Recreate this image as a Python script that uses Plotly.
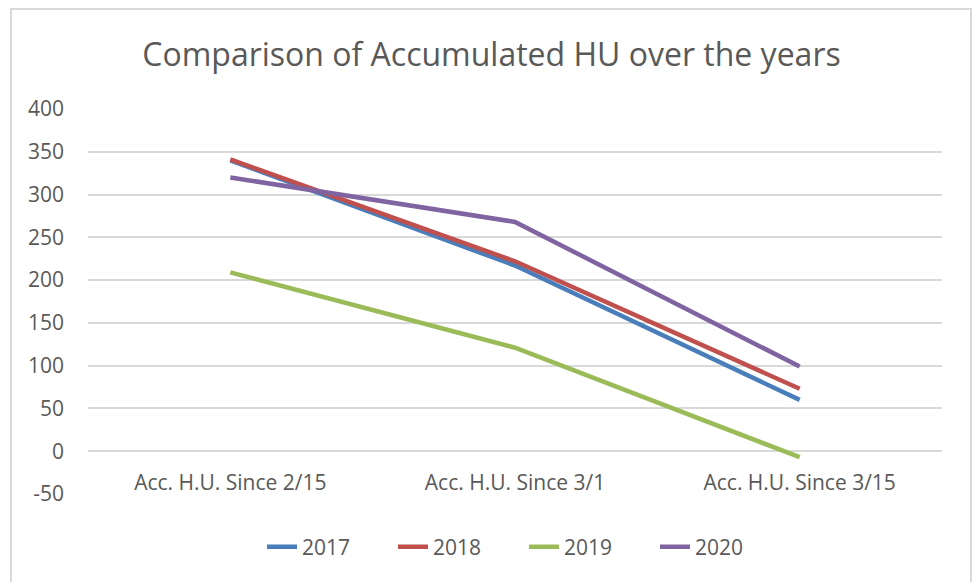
import plotly.graph_objects as go

categories = ["Acc. H.U. Since 2/15", "Acc. H.U. Since 3/1", "Acc. H.U. Since 3/15"]
series_names = ["2017", "2018", "2019", "2020"]
v2017 = [340, 217, 60]
v2018 = [341, 222, 73]
v2019 = [209, 121, -7]
v2020 = [320, 268, 99]
y_ticks = [-50, 0, 50, 100, 150, 200, 250, 300, 350, 400]
y_tick_labels = [str(v) for v in y_ticks]

colors = ["#4A7EBB", "#C0504D", "#9BBB59", "#8064A2"]
FONT = "Open Sans"
GRAY = "#595959"

fig = go.Figure()
for name, vals, c in zip(series_names, [v2017, v2018, v2019, v2020], colors):
    fig.add_trace(go.Scatter(x=[0, 1, 2], y=vals, mode="lines", name=name,
                             line=dict(color=c, width=4.5)))

L, R, T, B = 88, 33, 109, 88
W, H = 975, 582
pw, ph = W - L - R, H - T - B

fig.update_layout(
    width=W, height=H,
    margin=dict(l=L, r=R, t=T, b=B),
    paper_bgcolor="white", plot_bgcolor="white",
    font=dict(family=FONT, color=GRAY, size=19),
    title=dict(text="Comparison of Accumulated HU over the years",
               x=491.5 / W, xanchor="center", y=1 - 55 / H, yanchor="middle",
               yref="container", font=dict(size=32, color=GRAY, family=FONT)),
    xaxis=dict(range=[-0.5, 2.5], tickmode="array", tickvals=[0, 1, 2],
               ticktext=categories, showgrid=False, zeroline=False,
               showline=False, anchor="free", position=50 / 450,
               ticks="", ticklabelstandoff=17,
               tickfont=dict(size=21, color=GRAY)),
    yaxis=dict(range=[-50, 400], tickmode="array", tickvals=y_ticks,
               ticktext=y_tick_labels, showgrid=True,
               gridcolor="#D9D9D9", gridwidth=1.5, zeroline=False,
               showline=False, ticks="", ticklabelstandoff=23,
               tickfont=dict(size=21, color=GRAY)),
    legend=dict(orientation="h", x=(262 - L) / pw, xanchor="left",
                y=(494 - 547) / ph, yanchor="middle", entrywidth=86,
                font=dict(size=21, color=GRAY), bgcolor="rgba(0,0,0,0)"),
    showlegend=True,
)

fig.add_shape(type="rect", xref="paper", yref="paper",
              x0=(11 - L) / pw, x1=(971 - L) / pw,
              y0=(494 - 600) / ph, y1=(494 - 9) / ph,
              line=dict(color="#D9D9D9", width=2), fillcolor="rgba(0,0,0,0)",
              layer="below")

fig.write_html("out.html", config={"displayModeBar": False},
               post_script="document.body.style.margin='0';")
